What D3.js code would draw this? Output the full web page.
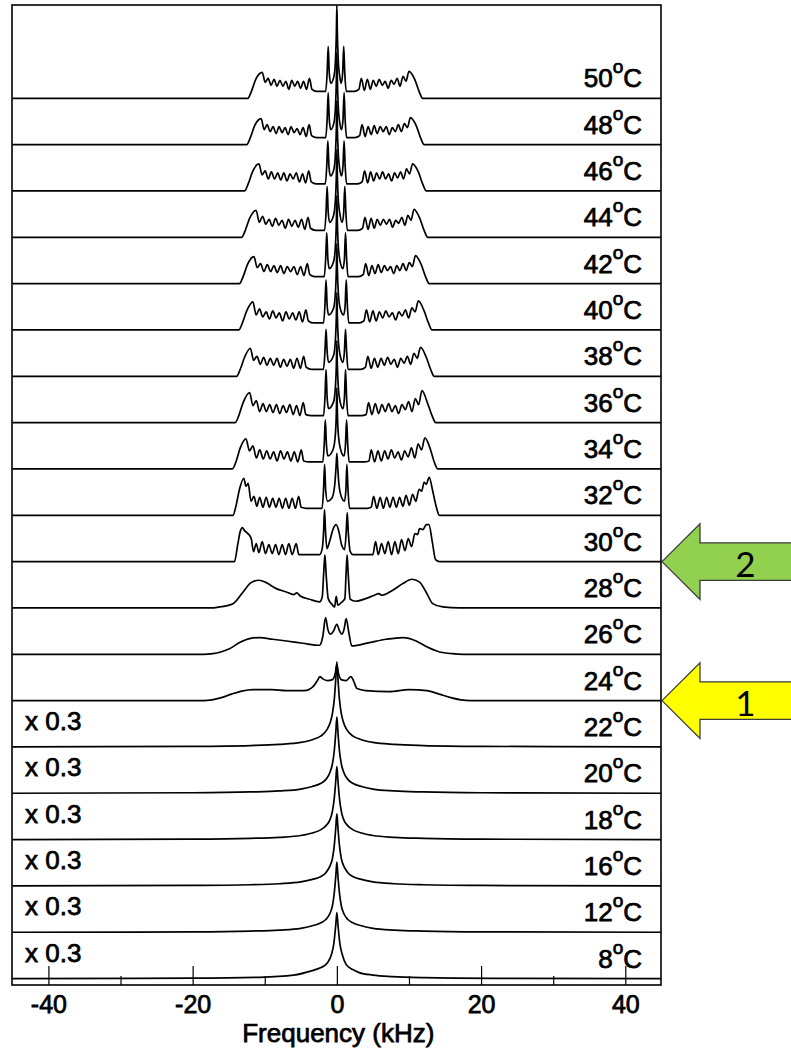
<!DOCTYPE html>
<html>
<head>
<meta charset="utf-8">
<script src="https://cdn.jsdelivr.net/npm/d3@7"></script>
<style>
  body { margin: 0; background: #fff; }
  svg { display: block; }
  .lbl { font-family: "Liberation Sans", Arial, sans-serif; font-size: 26px; fill: #000;
         stroke: #000; stroke-width: 0.75px; paint-order: stroke; }
</style>
</head>
<body>
<svg id="chart" width="791" height="1051"></svg>
<script>
// Stacked 2H NMR spectra, one trace per temperature (top = warmest)
const temperatures = [50, 48, 46, 44, 42, 40, 38, 36, 34, 32, 30, 28, 26, 24, 22, 20, 18, 16, 12, 8];
const scaledTemps = [22, 20, 18, 16, 12, 8];     // traces shown at reduced intensity
const scaleNote = "x 0.3";
const majorTicks = [-40, -20, 0, 20, 40];
const minorTicks = [-30, -10, 10, 30];
const axisTitle = "Frequency (kHz)";
const transitions = [
  { temp: 30, label: "2", color: "#92D050" },
  { temp: 24, label: "1", color: "#FFFF00" }
];

// Each spectrum: [frequency (kHz), intensity (a.u.)]
const s50 = [[-45,0],[-12.35,0],[-11.85,7],[-11.25,19],[-10.35,26],
  [-9.94,16],[-9.53,20],[-9.12,13],[-8.71,19],[-8.30,12],[-7.89,18],[-7.48,12],[-7.07,17],
  [-6.66,9],[-6.25,18],[-5.84,12],[-5.44,17],[-5.03,10],[-4.62,17],[-4.21,9],[-3.8,20],
  [-3.45,9],[-2.8,7],[-1.55,7],[-1.35,25],[-1.2,52],[-1.05,25],[-0.85,15],
  [-0.4,22],[-0.18,40],[-0.07,65],[0,93],[0.07,65],[0.18,40],[0.4,22],
  [0.6,15],[0.8,25],[0.95,52],[1.1,25],[1.3,7],[2.4,7],[3.05,9],[3.4,20],
  [3.81,8],[4.23,19],[4.64,9],[5.05,18],[5.46,12],[5.88,19],[6.29,13],[6.70,17],
  [7.11,10],[7.53,18],[7.94,14],[8.35,20],[8.76,12],[9.18,22],[9.59,17],[10.0,27],
  [10.8,19],[11.4,7],[11.9,0],[45,0]];
const s48 = [[-45,0],[-12.5,0],[-12.0,7],[-11.4,19],[-10.5,26],
  [-10.08,15],[-9.67,20],[-9.25,13],[-8.84,18],[-8.42,11],[-8.01,18],[-7.59,12],[-7.18,17],
  [-6.76,10],[-6.35,18],[-5.93,12],[-5.51,16],[-5.09,10],[-4.68,17],[-4.26,8],[-3.85,20],
  [-3.5,9],[-2.8,7],[-1.55,7],[-1.35,25],[-1.2,52],[-1.05,25],[-0.85,15],
  [-0.4,22],[-0.18,40],[-0.07,64],[0,92],[0.07,64],[0.18,40],[0.4,22],
  [0.65,15],[0.85,25],[1.0,52],[1.15,25],[1.35,7],[2.5,7],[3.15,9],[3.5,20],
  [3.92,8],[4.34,18],[4.76,10],[5.18,19],[5.59,11],[6.01,18],[6.43,13],[6.85,18],
  [7.27,10],[7.69,17],[8.11,13],[8.53,20],[8.94,13],[9.36,21],[9.78,17],[10.2,27],
  [11.0,19],[11.6,7],[12.1,0],[45,0]];
const s46 = [[-45,0],[-12.8,0],[-12.3,7],[-11.7,19],[-10.8,27],
  [-10.37,16],[-9.94,20],[-9.51,12],[-9.08,19],[-8.64,12],[-8.21,18],[-7.78,11],[-7.35,18],
  [-6.92,10],[-6.49,17],[-6.06,12],[-5.63,18],[-5.19,9],[-4.76,17],[-4.33,8],[-3.9,20],
  [-3.55,9],[-2.85,7],[-1.6,7],[-1.4,25],[-1.25,50],[-1.1,25],[-0.9,15],
  [-0.4,22],[-0.18,40],[-0.07,63],[0,90],[0.07,63],[0.18,40],[0.4,22],
  [0.65,15],[0.85,25],[1.0,50],[1.15,25],[1.35,7],[2.85,7],[3.5,9],[3.85,20],
  [4.27,8],[4.68,19],[5.1,10],[5.51,18],[5.93,12],[6.34,19],[6.76,12],[7.17,17],
  [7.59,10],[8.0,18],[8.42,13],[8.83,19],[9.25,12],[9.66,22],[10.08,17],[10.5,27],
  [11.3,19],[11.9,7],[12.4,0],[45,0]];
const s44 = [[-45,0],[-13.2,0],[-12.7,7],[-12.1,19],[-11.2,27],
  [-10.75,15],[-10.3,21],[-9.85,13],[-9.4,18],[-8.95,11],[-8.5,19],[-8.05,12],[-7.6,17],
  [-7.15,9],[-6.7,18],[-6.25,11],[-5.8,17],[-5.35,10],[-4.9,18],[-4.45,8],[-4.0,20],
  [-3.65,9],[-2.95,7],[-1.7,7],[-1.5,25],[-1.35,51],[-1.2,25],[-1.0,15],
  [-0.45,22],[-0.18,40],[-0.07,62],[0,88],[0.07,62],[0.18,40],[0.45,22],
  [0.75,15],[0.95,25],[1.1,51],[1.25,25],[1.45,7],[2.9,7],[3.55,9],[3.9,20],
  [4.33,8],[4.75,19],[5.18,9],[5.6,18],[6.03,12],[6.45,18],[6.88,13],[7.3,18],
  [7.73,10],[8.15,17],[8.58,14],[9.0,20],[9.43,12],[9.85,22],[10.28,17],[10.7,28],
  [11.5,19],[12.1,7],[12.6,0],[45,0]];
const s42 = [[-45,0],[-13.5,0],[-13.0,7],[-12.4,19],[-11.5,27],
  [-11.04,16],[-10.58,20],[-10.11,12],[-9.65,19],[-9.19,12],[-8.73,18],[-8.26,11],[-7.8,18],
  [-7.34,10],[-6.88,17],[-6.41,12],[-5.95,17],[-5.49,9],[-5.03,17],[-4.56,8],[-4.1,20],
  [-3.75,9],[-3.05,7],[-1.75,7],[-1.55,25],[-1.4,51],[-1.25,25],[-1.05,15],
  [-0.45,22],[-0.18,40],[-0.07,62],[0,88],[0.07,62],[0.18,40],[0.45,22],
  [0.85,15],[1.05,25],[1.2,51],[1.35,25],[1.55,7],[3.0,7],[3.65,9],[4.0,20],
  [4.43,8],[4.86,18],[5.29,10],[5.73,19],[6.16,11],[6.59,18],[7.02,13],[7.45,17],
  [7.88,10],[8.31,18],[8.74,13],[9.18,20],[9.61,13],[10.04,21],[10.47,17],[10.9,28],
  [11.7,19],[12.3,7],[12.8,0],[45,0]];
const s40 = [[-45,0],[-13.6,0],[-13.1,7],[-12.5,19],[-11.65,28],
  [-11.19,15],[-10.73,21],[-10.27,13],[-9.81,18],[-9.35,11],[-8.89,19],[-8.43,12],[-7.98,17],
  [-7.52,9],[-7.06,18],[-6.6,11],[-6.14,17],[-5.68,10],[-5.22,18],[-4.76,8],[-4.3,20],
  [-3.95,9],[-3.2,7],[-1.85,7],[-1.65,25],[-1.5,50],[-1.35,25],[-1.15,15],
  [-0.45,22],[-0.18,40],[-0.07,61],[0,86],[0.07,61],[0.18,40],[0.45,22],
  [0.95,15],[1.15,25],[1.3,50],[1.45,25],[1.65,7],[3.1,7],[3.75,9],[4.1,20],
  [4.55,8],[5.0,19],[5.45,9],[5.9,18],[6.35,12],[6.8,19],[7.25,13],[7.7,17],
  [8.15,10],[8.6,18],[9.05,14],[9.5,20],[9.95,12],[10.4,22],[10.85,18],[11.3,29],
  [12.1,19],[12.7,7],[13.2,0],[45,0]];
const s38 = [[-45,0],[-13.9,0],[-13.4,7],[-12.8,19],[-12.0,28],
  [-11.54,16],[-11.08,20],[-10.61,12],[-10.15,19],[-9.69,11],[-9.23,18],[-8.76,11],[-8.3,18],
  [-7.84,9],[-7.38,17],[-6.91,10],[-6.45,17],[-5.99,8],[-5.53,18],[-5.06,8],[-4.6,20],
  [-4.25,9],[-3.5,7],[-1.85,7],[-1.65,25],[-1.5,47],[-1.35,25],[-1.15,14],
  [-0.45,21],[-0.18,39],[-0.07,60],[0,84],[0.07,60],[0.18,39],[0.45,21],
  [0.85,14],[1.05,25],[1.2,47],[1.35,25],[1.55,7],[3.3,7],[3.95,9],[4.3,20],
  [4.76,8],[5.21,18],[5.67,9],[6.13,18],[6.58,11],[7.04,19],[7.49,12],[7.95,17],
  [8.41,9],[8.86,18],[9.32,13],[9.78,20],[10.23,12],[10.69,23],[11.14,18],[11.6,29],
  [12.4,19],[13.0,7],[13.5,0],[45,0]];
const s36 = [[-45,0],[-14.1,0],[-13.6,7],[-13.0,20],[-12.1,30],
  [-11.64,17],[-11.17,22],[-10.71,11],[-10.24,19],[-9.78,11],[-9.31,18],[-8.85,10],[-8.38,18],
  [-7.92,9],[-7.45,17],[-6.99,10],[-6.52,18],[-6.06,8],[-5.59,17],[-5.13,7],[-4.66,20],
  [-4.3,8],[-3.5,7],[-1.85,7],[-1.65,25],[-1.5,53],[-1.35,25],[-1.15,14],
  [-0.45,21],[-0.18,38],[-0.07,58],[0,82],[0.07,58],[0.18,38],[0.45,21],
  [0.85,14],[1.05,25],[1.2,53],[1.35,25],[1.55,7],[3.4,7],[4.05,8],[4.4,20],
  [4.86,8],[5.33,19],[5.79,9],[6.25,18],[6.71,11],[7.18,19],[7.64,11],[8.1,17],
  [8.56,9],[9.03,18],[9.49,13],[9.95,21],[10.41,11],[10.88,24],[11.34,18],[11.8,32],
  [12.6,19],[13.2,7],[13.7,0],[45,0]];
const s34 = [[-45,0],[-14.5,0],[-14.0,7],[-13.4,21],[-12.6,30],
  [-12.12,18],[-11.64,23],[-11.16,11],[-10.69,19],[-10.21,10],[-9.73,18],[-9.25,10],[-8.77,17],
  [-8.29,8],[-7.81,18],[-7.33,10],[-6.85,17],[-6.38,8],[-5.9,17],[-5.42,7],[-4.94,19],
  [-4.6,8],[-3.8,7],[-1.95,7],[-1.75,25],[-1.6,49],[-1.45,25],[-1.25,13],
  [-0.5,20],[-0.18,37],[-0.07,57],[0,81],[0.07,57],[0.18,37],[0.5,20],
  [1.0,13],[1.2,25],[1.35,49],[1.5,25],[1.7,7],[3.8,7],[4.45,8],[4.77,19],
  [5.23,7],[5.7,18],[6.16,8],[6.63,18],[7.09,10],[7.56,19],[8.02,11],[8.49,17],
  [8.95,9],[9.41,18],[9.88,12],[10.34,21],[10.81,11],[11.27,25],[11.74,19],[12.2,31],
  [13.0,19],[13.5,7],[14.0,0],[45,0]];
const s32 = [[-45,0],[-14.4,0],[-14.0,9],[-13.5,26],[-12.9,37],[-12.6,29],[-12.3,32],
  [-11.9,14],[-11.5,19],[-11.1,9],[-10.7,18],[-10.25,8],[-9.8,18],[-9.35,8],[-8.9,17],
  [-8.45,8],[-8.0,17],[-7.55,7],[-7.1,17],[-6.65,7],[-6.2,17],[-5.75,7],[-5.3,19],
  [-4.95,8],[-4.2,7],[-2.05,7],[-1.85,25],[-1.7,51],[-1.55,25],[-1.3,14],
  [-0.7,17],[-0.3,30],[-0.1,50],[0,62],[0.1,50],[0.3,30],[0.7,17],
  [1.05,14],[1.25,25],[1.39,51],[1.55,25],[1.75,7],[4.2,7],[4.75,8],[5.1,19],
  [5.55,7],[6.0,18],[6.45,7],[6.9,18],[7.35,8],[7.8,18],[8.25,8],[8.7,18],
  [9.15,9],[9.6,20],[10.05,10],[10.5,21],[10.95,14],[11.4,26],[11.75,24],[12.1,33],
  [12.4,31],[12.8,38],[13.3,24],[13.8,8],[14.2,0],[45,0]];
const s30 = [[-45,0],[-14.2,0],[-13.75,17],[-13.4,30],[-13.12,34],[-12.8,31],[-12.34,28],
  [-11.88,23],[-11.55,10],[-11.18,18],[-10.81,9],[-10.35,20],[-9.89,8],[-9.43,17],[-8.96,8],
  [-8.5,17],[-8.04,7],[-7.58,17],[-7.12,7],[-6.66,18],[-6.19,7],[-5.64,18],[-5.27,7],
  [-4.25,7],[-2.4,7],[-2.03,13],[-1.84,30],[-1.71,52],[-1.57,30],[-1.39,13],
  [-1.01,20],[-0.55,32],[-0.09,37],[0.28,30],[0.65,17],[1.07,12],
  [1.3,30],[1.44,49],[1.58,30],[1.86,10],[2.22,7],[4.99,7],
  [5.37,20],[5.74,7],[6.2,18],[6.66,8],[7.12,20],[7.59,7],[8.05,20],[8.51,8],
  [8.97,22],[9.44,11],[9.9,23],[10.36,15],[10.82,28],[11.19,27],[11.47,33],[11.93,32],
  [12.4,37],[12.77,37],[13.23,20],[13.69,2],[14.24,0],[45,0]];
const s28 = [[-45,0],[-17.5,0],[-16.3,1],[-14.4,4.3],[-13.0,16],[-11.9,25.3],[-10.8,27.7],
  [-9.8,25.3],[-8.4,19.3],[-7.0,16],[-6.0,13.3],[-5.55,15],[-5.08,12],[-3.79,8.7],
  [-2.4,6],[-2.03,11],[-1.84,33],[-1.66,53],[-1.48,33],[-1.2,9.3],[-0.64,3.3],
  [-0.31,1],[-0.09,11.7],[0.14,2.7],[0.6,5.3],[1.11,9.3],[1.27,33],[1.42,53],
  [1.58,33],[1.85,8.7],[2.63,6.7],[4.0,9.3],[5.2,12.7],[5.8,14.3],[6.26,12.7],
  [7.74,17.7],[9.13,24.3],[10.42,28.7],[11.44,26],[12.37,16],[13.29,4.3],[14.68,1],[17,0],[45,0]];
const s26 = [[-45,0],[-18.5,0],[-17.2,0.6],[-16.0,2.5],[-14.9,5.5],[-13.5,11.7],[-12.1,15.7],[-10.7,16.7],
  [-8.9,15],[-7.0,13.3],[-4.7,11],[-2.4,9],[-1.94,18.3],[-1.57,36.7],[-1.25,25],
  [-0.88,20],[-0.46,23.3],[0,30],[0.37,23.3],[0.69,20],[1.0,25],[1.29,35.7],[1.66,21.7],
  [2.08,8.3],[4.53,11.7],[6.84,15],[9.15,16.7],[11.0,13.3],[12.4,7.7],[14.24,2.3],[16.0,0.6],[17.5,0],[45,0]];
const s24 = [[-45,0],[-18.5,0],[-17.3,0.8],[-16.0,3],[-14.6,6.5],[-13.2,9.5],[-11.6,11],[-9.0,11],[-7.0,10],
  [-4.5,10],[-3.3,14],[-2.7,20],[-2.35,24],[-2.0,22],[-1.3,20],[-0.6,21],[-0.2,28],[0,36],
  [0.2,28],[0.6,21],[1.3,20],[1.6,22],[1.95,24],[2.3,20],[2.8,12],[4.0,10],[7.3,9],
  [10.0,11],[12.5,10],[14.2,6.5],[15.8,3],[17.2,0.8],[18.5,0],[45,0]];
const s22 = [[-45,0],[-20,0.6],[-12,1.4],[-8,2.5],[-5,4.5],[-3.3,7.5],[-2.2,11],[-1.4,17],
  [-0.9,25],[-0.6,34],[-0.35,48],[-0.15,68],[0,85],[0.15,68],[0.35,48],[0.6,34],[0.9,25],
  [1.4,17],[2.2,11],[3.3,7.5],[5,4.5],[8,2.5],[12,1.4],[20,0.6],[45,0]];
const s20 = [[-45,0],[-20,0.5],[-12,1.3],[-8,2.3],[-5,4.2],[-3.4,6.8],[-2.2,10],[-1.5,14],
  [-0.95,21],[-0.6,30],[-0.35,43],[-0.15,61],[0,76],[0.15,61],[0.35,43],[0.6,30],[0.95,21],
  [1.5,14],[2.2,10],[3.4,6.8],[5,4.2],[8,2.3],[12,1.3],[20,0.5],[45,0]];
const s18 = [[-45,0],[-20,0.5],[-12,1.3],[-8,2.3],[-5,4.1],[-3.4,6.6],[-2.2,10],[-1.5,14],
  [-0.95,20],[-0.6,29],[-0.35,42],[-0.15,59],[0,73],[0.15,59],[0.35,42],[0.6,29],[0.95,20],
  [1.5,14],[2.2,10],[3.4,6.6],[5,4.1],[8,2.3],[12,1.3],[20,0.5],[45,0]];
const s16 = [[-45,0],[-20,0.5],[-12,1.2],[-8,2.2],[-5,4],[-3.4,6.5],[-2.2,9.5],[-1.5,13.5],
  [-0.95,20],[-0.6,28],[-0.35,41],[-0.15,58],[0,72],[0.15,58],[0.35,41],[0.6,28],[0.95,20],
  [1.5,13.5],[2.2,9.5],[3.4,6.5],[5,4],[8,2.2],[12,1.2],[20,0.5],[45,0]];
const s12 = [[-45,0],[-20,0.4],[-12,1.2],[-8,2.2],[-5,3.9],[-3.4,6.5],[-2.2,9.5],[-1.5,13],
  [-0.95,19],[-0.6,27],[-0.35,40],[-0.15,56],[0,70],[0.15,56],[0.35,40],[0.6,27],[0.95,19],
  [1.5,13],[2.2,9.5],[3.4,6.5],[5,3.9],[8,2.2],[12,1.2],[20,0.4],[45,0]];
const s8 = [[-45,0],[-20,0.4],[-10.7,1.3],[-6,3.5],[-3.4,8],[-2.2,11],[-1.4,15],[-0.75,24],
  [-0.4,36],[-0.15,54],[0,66],[0.15,54],[0.4,36],[0.75,24],[1.3,14],[2.2,9],[3.1,6],
  [5,3.5],[7.7,2],[12,1],[21.6,0.3],[45,0]];

const spectra = [s50, s48, s46, s44, s42, s40, s38, s36, s34, s32,
                 s30, s28, s26, s24, s22, s20, s18, s16, s12, s8];

// ---- layout ----
const width = 791, height = 1051;
const plot = { left: 12, right: 661, top: 5, bottom: 985 };

const x = d3.scaleLinear().domain([-45.05, 44.95]).range([plot.left, plot.right]);
const yBase = d3.scalePoint().domain(temperatures).range([98.3, 978.6]);
// one stacking step corresponds to 46.3 intensity units
const amp = d3.scaleLinear().domain([0, 46.3]).range([0, yBase.step()]);

const svg = d3.select("#chart");

svg.append("defs").append("clipPath").attr("id", "plot-clip")
  .append("rect")
  .attr("x", plot.left).attr("y", plot.top)
  .attr("width", plot.right - plot.left).attr("height", plot.bottom - plot.top);

// spectra
const traceLayer = svg.append("g").attr("clip-path", "url(#plot-clip)");
temperatures.forEach((t, i) => {
  const base = yBase(t);
  const line = d3.line()
    .x(d => x(d[0]))
    .y(d => base - amp(d[1]))
    .curve(d3.curveMonotoneX);
  traceLayer.append("path")
    .datum(spectra[i])
    .attr("d", line)
    .attr("fill", "none")
    .attr("stroke", "#000")
    .attr("stroke-width", 1.7)
    .attr("stroke-linejoin", "round");
});

// frame
svg.append("rect")
  .attr("x", plot.left).attr("y", plot.top)
  .attr("width", plot.right - plot.left).attr("height", plot.bottom - plot.top)
  .attr("fill", "none").attr("stroke", "#000").attr("stroke-width", 1.6);

// bottom axis: major ticks with labels, minor ticks without
const majorAxis = d3.axisBottom(x).tickValues(majorTicks)
  .tickSizeInner(-19).tickSizeOuter(0).tickPadding(10)
  .tickFormat(d => String(d));
const minorAxis = d3.axisBottom(x).tickValues(minorTicks)
  .tickSizeInner(-9).tickSizeOuter(0).tickFormat("");

const gMajor = svg.append("g").attr("transform", `translate(0,${plot.bottom})`).call(majorAxis);
const gMinor = svg.append("g").attr("transform", `translate(0,${plot.bottom})`).call(minorAxis);
[gMajor, gMinor].forEach(g => {
  g.attr("font-size", null).attr("font-family", null);
  g.select(".domain").remove();
  g.selectAll(".tick line").attr("stroke", "#000").attr("stroke-width", 1.2);
});
gMajor.selectAll(".tick text")
  .attr("class", "lbl")
  .style("font-size", "25px");

svg.append("text")
  .attr("class", "lbl")
  .attr("x", x(0.2)).attr("y", 1042)
  .attr("text-anchor", "middle")
  .text(axisTitle);

// temperature labels
const labels = svg.append("g");
temperatures.forEach(t => {
  const txt = labels.append("text")
    .attr("class", "lbl")
    .attr("x", 642).attr("y", yBase(t) - 11)
    .attr("text-anchor", "end");
  txt.append("tspan").text(String(t));
  txt.append("tspan").attr("font-size", "19px").attr("dy", -14).text("o");
  txt.append("tspan").attr("dy", 14).text("C");
});

// intensity scaling notes
scaledTemps.forEach(t => {
  labels.append("text")
    .attr("class", "lbl")
    .attr("x", 25).attr("y", yBase(t) - 17)
    .text(scaleNote);
});

// transition arrows at the right margin
const arrowLayer = svg.append("g");
transitions.forEach(m => {
  const ty = yBase(m.temp);
  const tipX = plot.right + 1, headX = tipX + 38, tailX = width + 10;
  const headHalf = 37.8, shaftHalf = 18.8;
  const pts = [
    [tipX, ty], [headX, ty - headHalf], [headX, ty - shaftHalf], [tailX, ty - shaftHalf],
    [tailX, ty + shaftHalf], [headX, ty + shaftHalf], [headX, ty + headHalf]
  ];
  arrowLayer.append("path")
    .attr("d", d3.line()(pts) + "Z")
    .attr("fill", m.color)
    .attr("stroke", "#3c3c3c")
    .attr("stroke-width", 1.3)
    .attr("stroke-linejoin", "miter");
  arrowLayer.append("text")
    .attr("x", 745.5).attr("y", ty + 15)
    .attr("text-anchor", "middle")
    .attr("font-family", "Lato, 'Open Sans', sans-serif")
    .attr("font-size", 35)
    .attr("fill", "#000")
    .text(m.label);
});
</script>
</body>
</html>
